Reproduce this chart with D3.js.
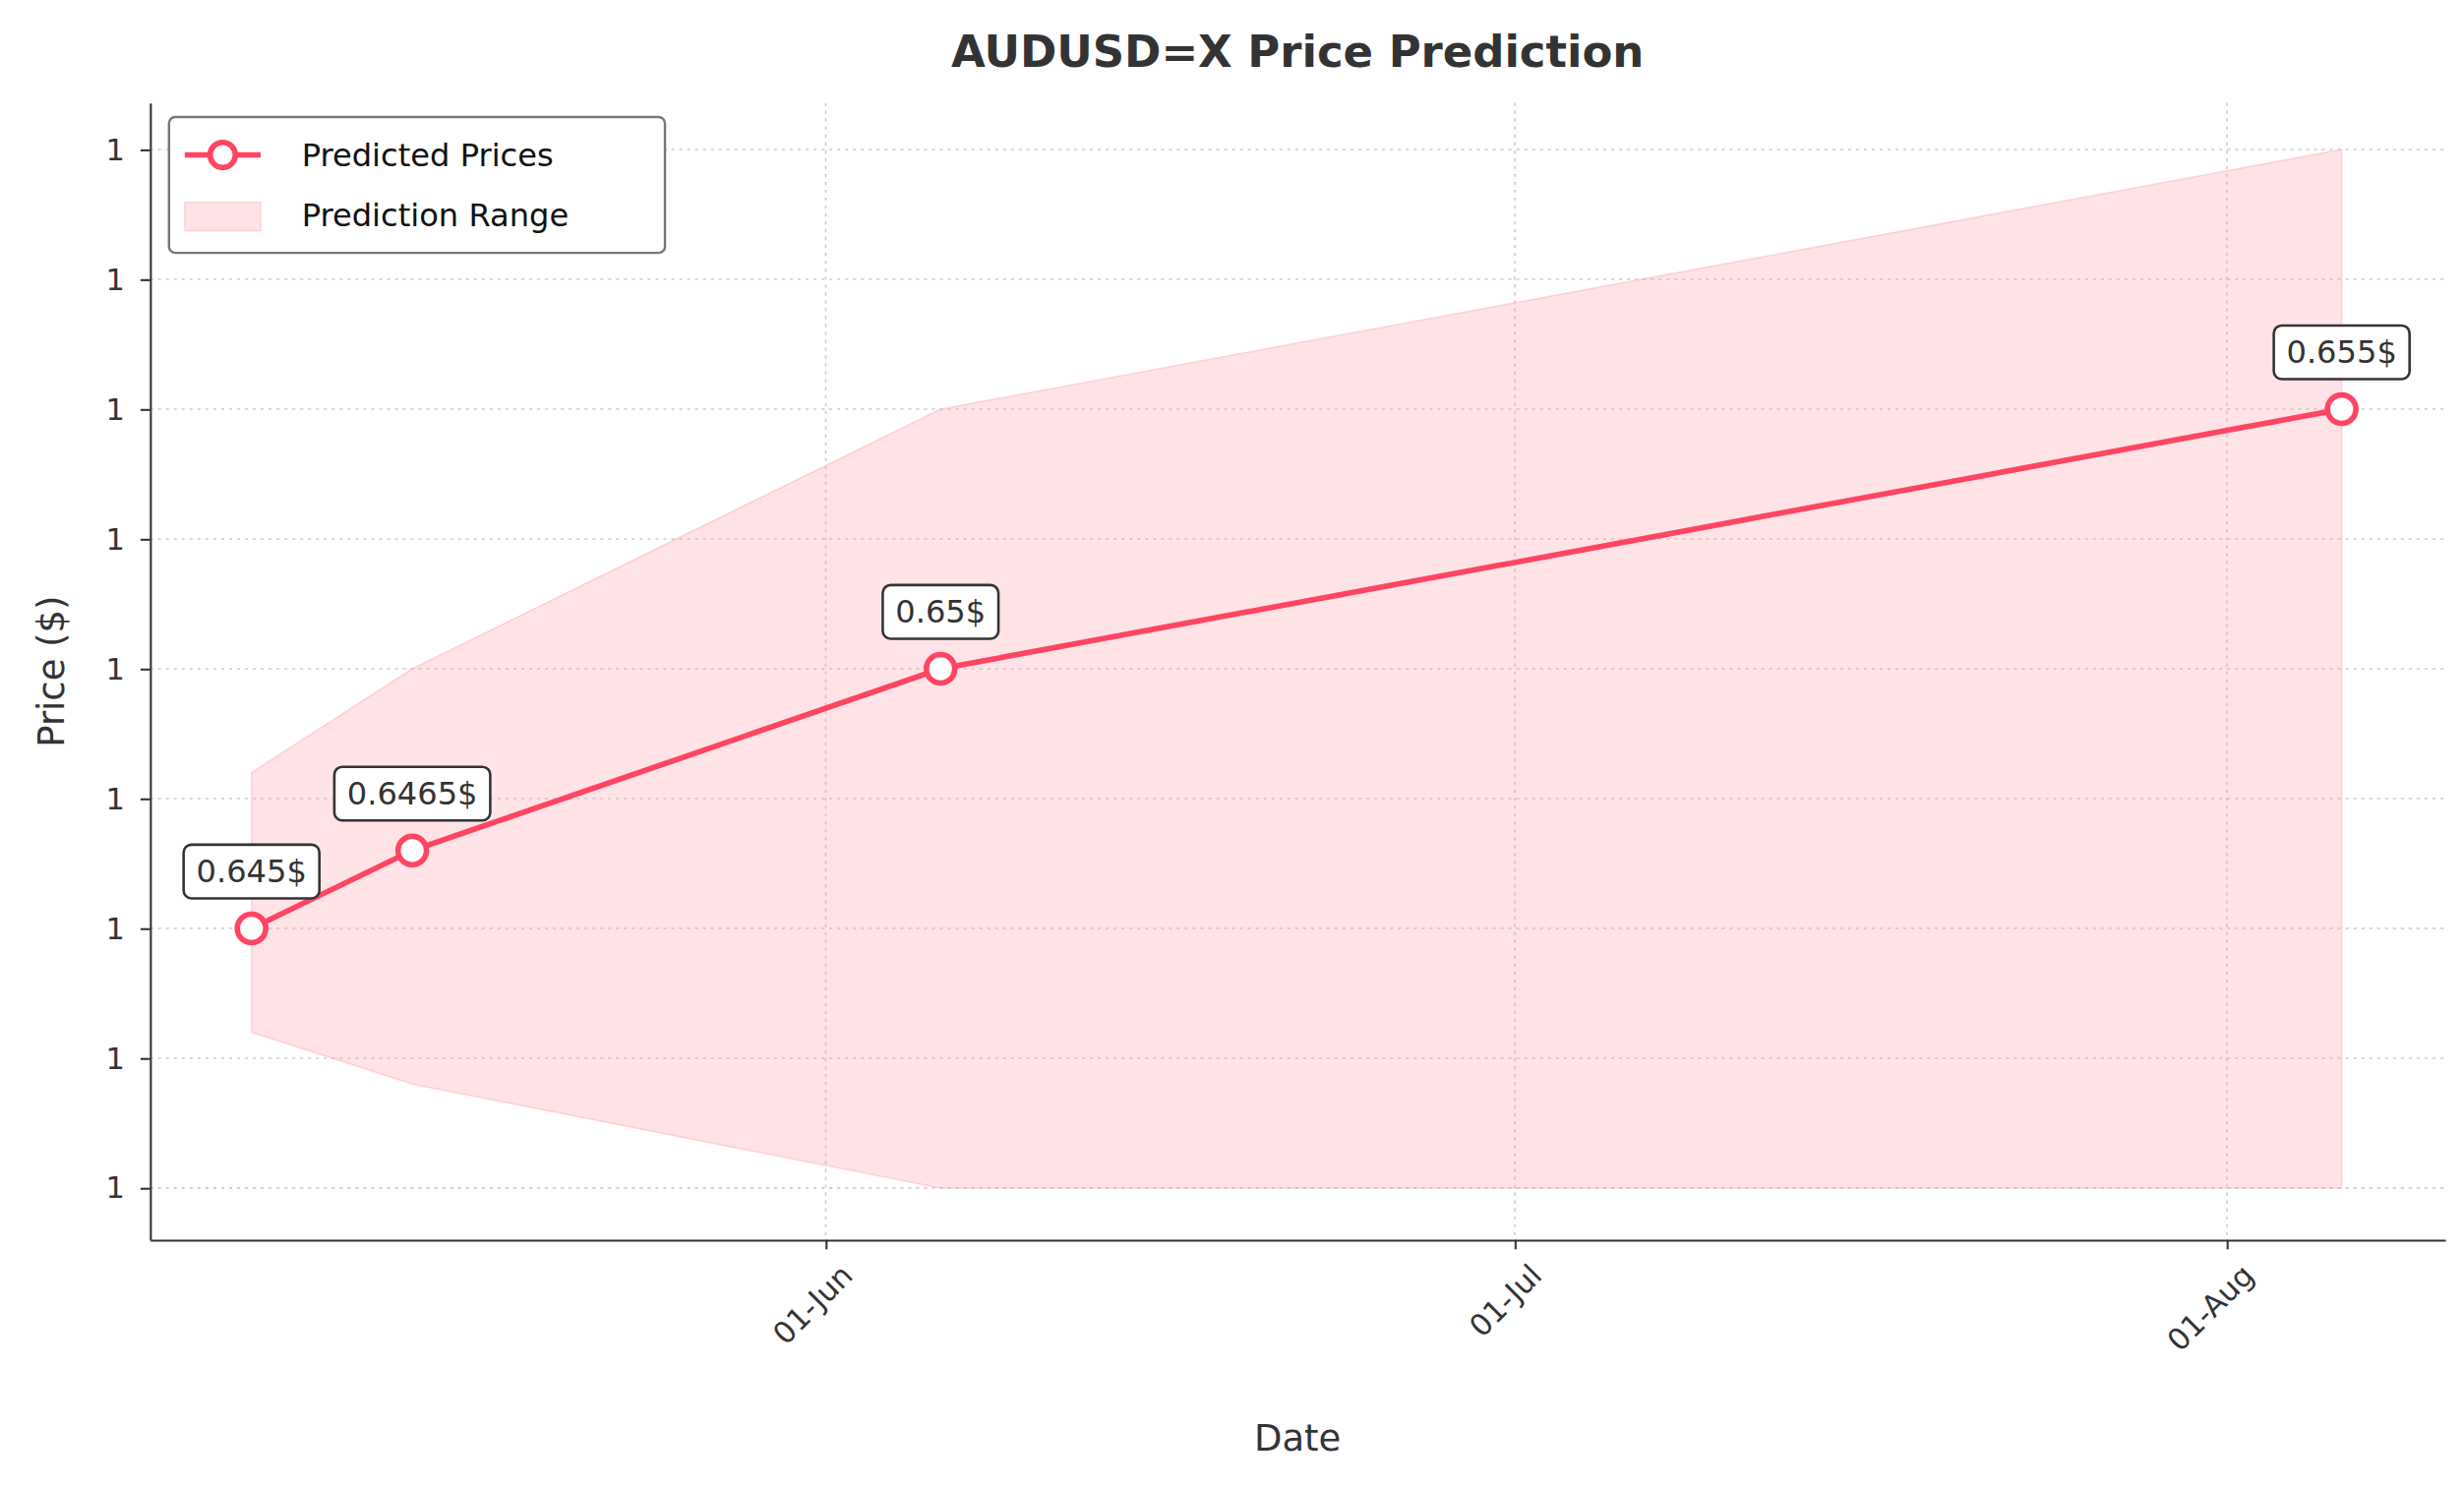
<!DOCTYPE html>
<html><head><meta charset="utf-8">
<script src="https://cdn.jsdelivr.net/npm/d3@7"></script>
<style>body{margin:0;background:#fff}</style></head>
<body><svg id="c" width="2505" height="1513" viewBox="0 0 1560 942"></svg>
<script>
const dates = ["2024-05-07","2024-05-14","2024-06-06","2024-08-06"];
const predicted = [0.645,0.6465,0.65,0.655];
const upper = [0.648,0.65,0.655,0.66];
const lower = [0.643,0.642,0.64,0.64];
const labels = ["0.645$","0.6465$","0.65$","0.655$"];
const yTicks = [0.64,0.6425,0.645,0.6475,0.65,0.6525,0.655,0.6575,0.66];
const xTicks = ["2024-06-01","2024-07-01","2024-08-01"];
const pd = d3.timeParse("%Y-%m-%d");
const data = dates.map((d,i)=>({d:pd(d),p:predicted[i],u:upper[i],l:lower[i],t:labels[i]}));
const svg = d3.select("#c"), F="DejaVu Sans";
const L=95,R=1548,T=65,B=785;
const x=d3.scaleTime().domain([new Date(2024,4,2,14),new Date(2024,7,10,12)]).range([L,R]);
const y=d3.scaleLinear().domain([0.639,0.6609]).range([B,T]);
svg.append("g").selectAll("line").data(yTicks).join("line").attr("x1",L).attr("x2",R)
 .attr("y1",d=>y(d)).attr("y2",d=>y(d)).attr("stroke","#ccc").attr("stroke-dasharray","2,3").attr("stroke-width",1);
svg.append("g").selectAll("line").data(xTicks).join("line").attr("y1",T).attr("y2",B)
 .attr("x1",d=>x(pd(d))).attr("x2",d=>x(pd(d))).attr("stroke","#ccc").attr("stroke-dasharray","2,3").attr("stroke-width",1);
svg.append("path").datum(data).attr("d",d3.area().x(d=>x(d.d)).y0(d=>y(d.l)).y1(d=>y(d.u)))
 .attr("fill","#ff99aa").attr("fill-opacity",0.28).attr("stroke","#ff99aa").attr("stroke-opacity",0.35);
svg.append("path").datum(data).attr("d",d3.line().x(d=>x(d.d)).y(d=>y(d.p)))
 .attr("fill","none").attr("stroke","#ff4562").attr("stroke-width",3.5);
svg.append("g").selectAll("circle").data(data).join("circle").attr("cx",d=>x(d.d)).attr("cy",d=>y(d.p))
 .attr("r",9).attr("fill","#fff").attr("stroke","#ff4562").attr("stroke-width",3.5);
data.forEach(d=>{
 const g=svg.append("g").attr("transform",`translate(${x(d.d)},${y(d.p)-36})`);
 const t=g.append("text").attr("text-anchor","middle").attr("font-family",F).attr("font-size",20).attr("fill","#333").attr("dy","0.35em").text(d.t);
 const w=t.node().getComputedTextLength();
 g.insert("rect","text").attr("x",-w/2-8).attr("y",-17).attr("width",w+16).attr("height",34).attr("rx",5)
  .attr("fill","#fff").attr("stroke","#333").attr("stroke-width",1.6);
});
const ya=svg.append("g").attr("transform",`translate(${L},0)`).call(d3.axisLeft(y).tickValues(yTicks).tickFormat(d3.format(".0f")).tickSize(6).tickSizeOuter(0).tickPadding(10));
const xa=svg.append("g").attr("transform",`translate(0,${B})`).call(d3.axisBottom(x).tickValues(xTicks.map(pd)).tickFormat(d3.timeFormat("%d-%b")).tickSize(6).tickSizeOuter(0));
[ya,xa].forEach(a=>{a.selectAll("text").attr("font-family",F).attr("font-size",19).attr("fill","#333");a.selectAll("line,path").attr("stroke","#333").attr("stroke-width",1.3);});
xa.selectAll("text").attr("text-anchor","end").attr("transform","translate(2,8) rotate(-45)").attr("dy","0.7em");
svg.append("text").attr("x",(L+R)/2).attr("y",35).attr("text-anchor","middle").attr("dominant-baseline","middle").attr("font-family",F).attr("font-weight","bold").attr("font-size",28).attr("fill","#333").text("AUDUSD=X Price Prediction");
svg.append("text").attr("x",(L+R)/2).attr("y",912).attr("text-anchor","middle").attr("dominant-baseline","middle").attr("font-family",F).attr("font-size",23).attr("fill","#333").text("Date");
svg.append("text").attr("transform",`translate(34,${(T+B)/2}) rotate(-90)`).attr("text-anchor","middle").attr("dominant-baseline","middle").attr("font-family",F).attr("font-size",23).attr("fill","#333").text("Price ($)");
const lg=svg.append("g").attr("transform","translate(107,74)");
lg.append("rect").attr("width",314).attr("height",86).attr("rx",4).attr("fill","#fff").attr("stroke","#777").attr("stroke-width",1.5);
lg.append("line").attr("x1",10).attr("x2",58).attr("y1",24).attr("y2",24).attr("stroke","#ff4562").attr("stroke-width",3.5);
lg.append("circle").attr("cx",34).attr("cy",24).attr("r",8).attr("fill","#fff").attr("stroke","#ff4562").attr("stroke-width",3.5);
lg.append("rect").attr("x",10).attr("y",54).attr("width",48).attr("height",18).attr("fill","#ff99aa").attr("fill-opacity",0.28).attr("stroke","#ff99aa").attr("stroke-opacity",0.35);
lg.append("text").attr("x",84).attr("y",24).attr("dy","0.35em").attr("font-family",F).attr("font-size",20).attr("fill","#111").text("Predicted Prices");
lg.append("text").attr("x",84).attr("y",62).attr("dy","0.35em").attr("font-family",F).attr("font-size",20).attr("fill","#111").text("Prediction Range");
</script></body></html>
